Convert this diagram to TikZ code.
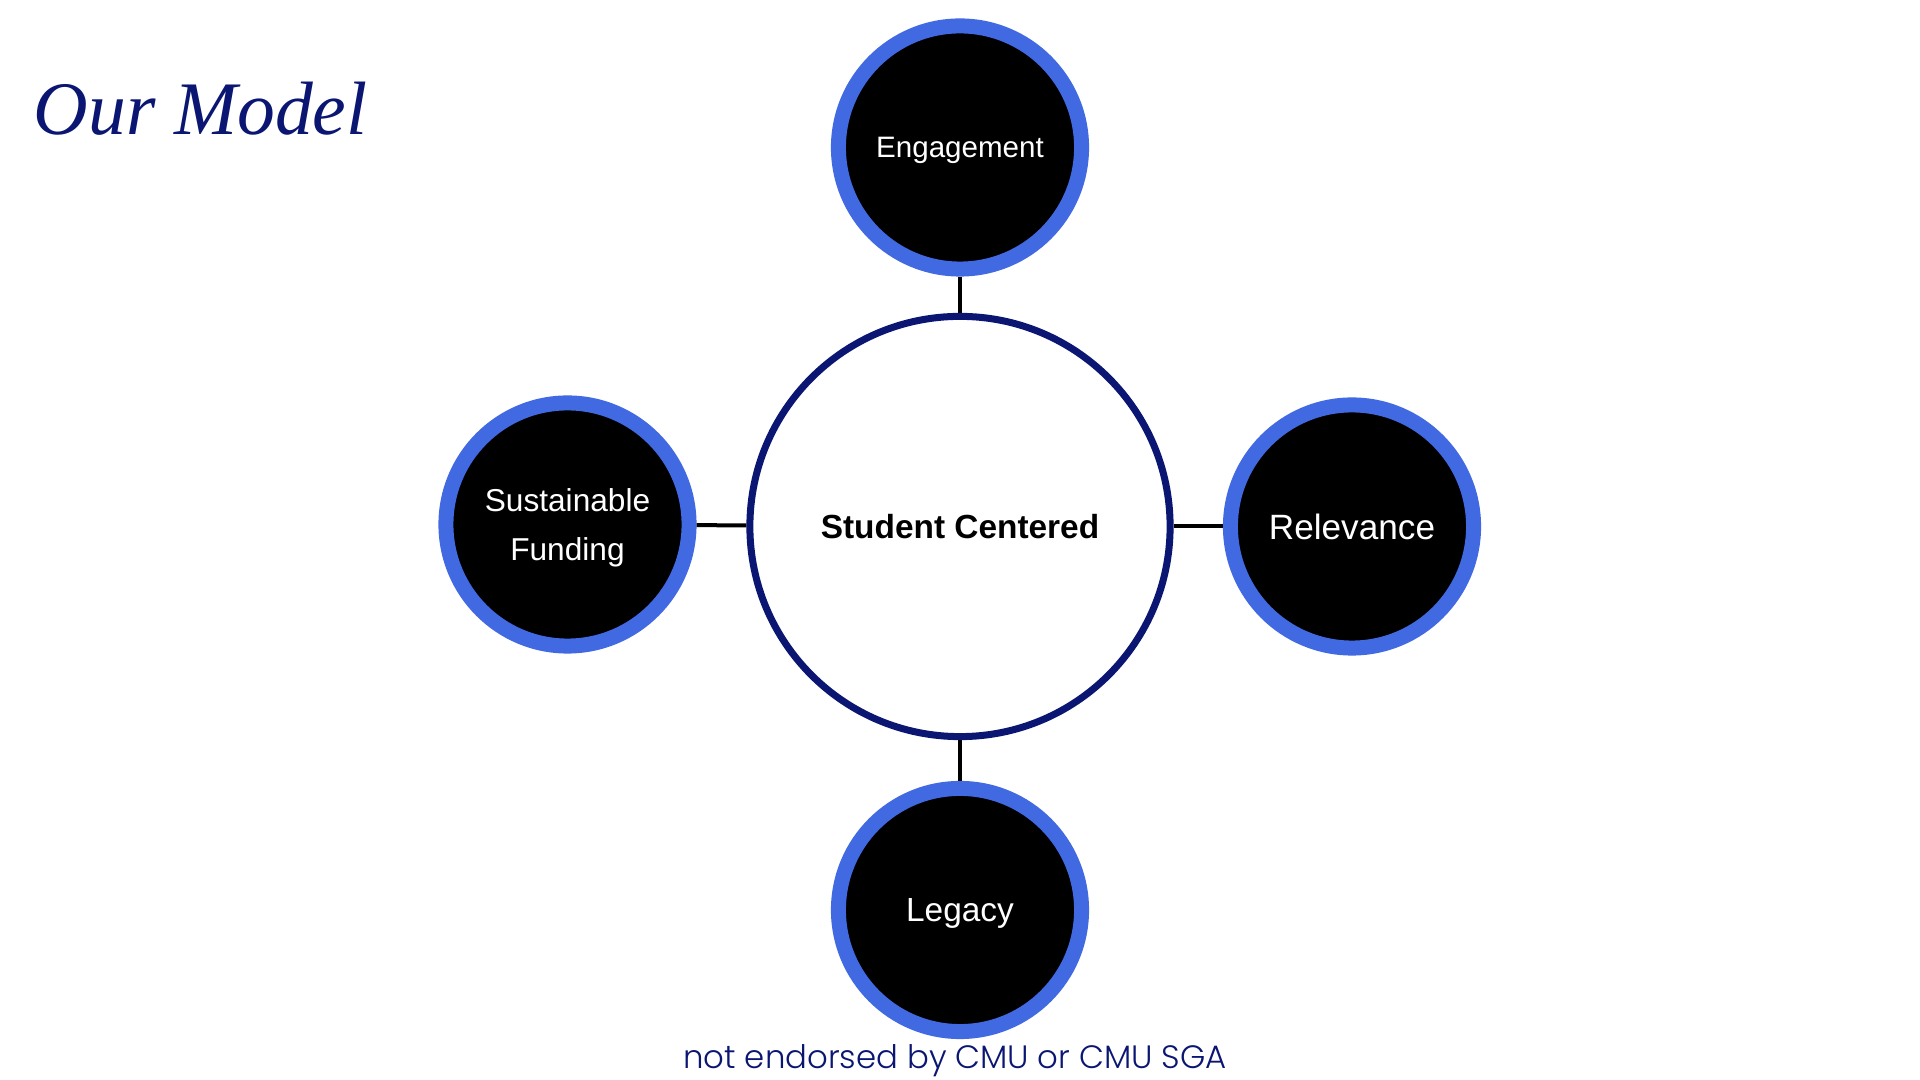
\documentclass[tikz,border=0pt]{standalone}
\usepackage{fontspec}
\setmainfont{Liberation Sans}
\newfontfamily\titlefont{Liberation Serif}
\newfontfamily\footfont{Poppins Light}

\definecolor{ringblue}{HTML}{4169E1}
\definecolor{navy}{HTML}{0A1672}

\tikzset{
  pillar/.style={circle, fill=black, draw=ringblue, line width=0.15cm,
    minimum size=2.43cm, inner sep=0pt, text=white, align=center,
    text depth=0pt},
  hub/.style={circle, fill=white, draw=navy, line width=0.07cm,
    minimum size=4.2cm, inner sep=0pt,
    font=\bfseries\fontsize{9.5}{11}\selectfont},
  link/.style={line width=0.04cm}
}

\begin{document}
\begin{tikzpicture}[x=0.01cm, y=-0.01cm]
  \useasboundingbox (0,0) rectangle (1920,1080);

  \node[hub] (hub) at (960,526.5) {Student Centered};

  \foreach \n/\x/\y/\s/\t in {eng/960/147.5/8.4/Engagement,
                              fund/567.5/524.5/9/{Sustainable\\Funding},
                              rel/1352/526.5/10/Relevance,
                              leg/960/910/9.5/Legacy} {
    \node[pillar, font=\fontsize{\s}{13.7}\selectfont] (\n) at (\x,\y) {\t};
    \draw[link] (hub) -- (\n);
  }

  \node[font=\titlefont\itshape\fontsize{21.5}{26}\selectfont, text=navy,
    anchor=base west, inner sep=0pt] (title) at (33,135) {Our Model};
  \node[font=\footfont\fontsize{9.2}{11}\selectfont, text=navy,
    anchor=base, inner sep=0pt] (note) at (955,1069) {not endorsed by CMU or CMU SGA};
\end{tikzpicture}
\end{document}
